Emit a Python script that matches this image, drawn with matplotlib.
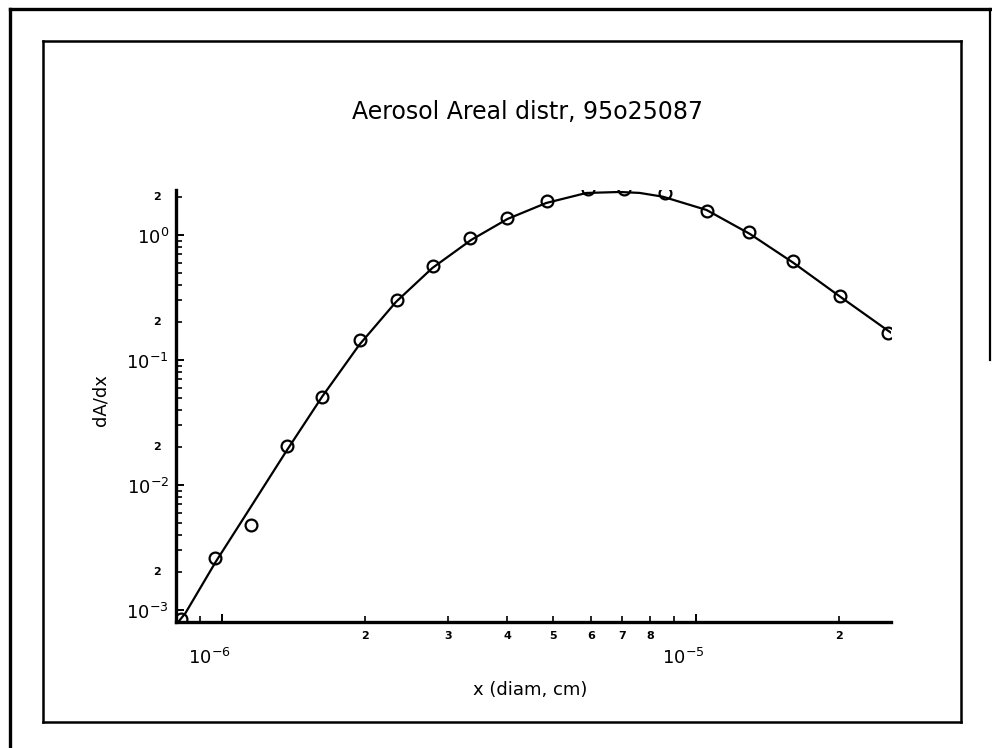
import matplotlib
matplotlib.use("Agg")
import matplotlib.pyplot as plt
import matplotlib.transforms as mtransforms
from matplotlib.lines import Line2D
from matplotlib.ticker import FixedLocator, NullFormatter

# ---- data ----
point_x = [8.2e-7, 9.66e-7, 1.15e-6, 1.372e-6, 1.627e-6, 1.96e-6, 2.344e-6, 2.79e-6,
           3.34e-6, 4.0e-6, 4.84e-6, 5.91e-6, 7.05e-6, 8.6e-6, 1.054e-5, 1.294e-5,
           1.603e-5, 2.015e-5, 2.54e-5]
point_y = [8.4e-4, 2.61e-3, 4.79e-3, 2.05e-2, 5.06e-2, 0.1445, 0.302, 0.565,
           0.946, 1.368, 1.87, 2.32, 2.32, 2.15, 1.556, 1.057,
           0.619, 0.325, 0.164]

curve_x = [8.0e-7, 8.38e-7, 9.70e-7, 1.140e-6, 1.364e-6, 1.627e-6, 1.948e-6, 2.329e-6,
           2.78e-6, 3.355e-6, 4.004e-6, 4.834e-6, 5.873e-6, 6.907e-6, 7.61e-6, 8.515e-6,
           1.053e-5, 1.30e-5, 1.604e-5, 2.015e-5, 2.53e-5, 2.6e-5]
curve_y = [7.6e-4, 9.46e-4, 2.42e-3, 6.31e-3, 1.837e-2, 5.08e-2, 0.1318, 0.2911,
           0.5445, 0.912, 1.343, 1.803, 2.168, 2.208, 2.17, 2.025,
           1.585, 1.019, 0.6003, 0.321, 0.1738, 0.162]

x_major_ticks = [1e-6, 1e-5]
x_major_labels = [r"10$^{-6}$", r"10$^{-5}$"]
x_minor_ticks = [8e-7, 9e-7, 2e-6, 3e-6, 4e-6, 5e-6, 6e-6, 7e-6, 8e-6, 9e-6, 2e-5]
x_minor_label_pos = [2e-6, 3e-6, 4e-6, 5e-6, 6e-6, 7e-6, 8e-6, 2e-5]
x_minor_labels = ["2", "3", "4", "5", "6", "7", "8", "2"]

y_major_ticks = [1e-3, 1e-2, 1e-1, 1e0]
y_major_labels = [r"10$^{-3}$", r"10$^{-2}$", r"10$^{-1}$", r"10$^{0}$"]
y_minor_ticks = [m * 10.0 ** e for e in (-3, -2, -1, 0) for m in range(2, 10)]
y_minor_label_pos = [2e-3, 2e-2, 2e-1, 2e0]
y_minor_labels = ["2", "2", "2", "2"]

title = "Aerosol Areal distr, 95o25087"
xlabel = "x (diam, cm)"
ylabel = "dA/dx"

# ---- figure ----
W, H = 992, 748
fig = plt.figure(figsize=(W / 100, H / 100), dpi=100)
fig.patch.set_facecolor("white")

def fx(px):
    return px / W

def fy(py):
    return 1 - py / H

ax_l, ax_r, ax_t, ax_b = 176, 891, 190, 622
ax = fig.add_axes([fx(ax_l), fy(ax_b), fx(ax_r - ax_l), (ax_b - ax_t) / H])
ax.set_xscale("log")
ax.set_yscale("log")
ax.set_xlim(8.0e-7, 2.58e-5)
ax.set_ylim(8.0e-4, 2.29)

ax.plot(curve_x, curve_y, color="black", lw=1.6, solid_joinstyle="round")
ax.plot(point_x, point_y, linestyle="none", marker="o", markersize=8.5,
        markerfacecolor="none", markeredgecolor="black", markeredgewidth=1.6)

for s in ("top", "right"):
    ax.spines[s].set_visible(False)
for s in ("left", "bottom"):
    ax.spines[s].set_linewidth(2.4)
    ax.spines[s].set_color("black")

ax.xaxis.set_major_locator(FixedLocator(x_major_ticks))
ax.xaxis.set_minor_locator(FixedLocator(x_minor_ticks))
ax.yaxis.set_major_locator(FixedLocator(y_major_ticks))
ax.yaxis.set_minor_locator(FixedLocator(y_minor_ticks))
for a in (ax.xaxis, ax.yaxis):
    a.set_major_formatter(NullFormatter())
    a.set_minor_formatter(NullFormatter())
ax.tick_params(which="major", direction="in", length=6, width=1.4, color="black")
ax.tick_params(which="minor", direction="in", length=4, width=1.2, color="black")

# x tick labels
tx = mtransforms.blended_transform_factory(ax.transData, ax.transAxes)
tx_major = mtransforms.offset_copy(tx, fig=fig, x=-13, y=0, units="dots")
for v, lab in zip(x_minor_label_pos, x_minor_labels):
    ax.text(v, (ax_b - 636) / (ax_b - ax_t), lab, transform=tx, ha="center", va="center",
            fontsize=8, fontweight="bold", clip_on=False)
for v, lab in zip(x_major_ticks, x_major_labels):
    ax.text(v, (ax_b - 658) / (ax_b - ax_t), lab, transform=tx_major, ha="center", va="center",
            fontsize=13, clip_on=False)

# y tick labels
ty = mtransforms.blended_transform_factory(ax.transAxes, ax.transData)
ty_major = mtransforms.offset_copy(ty, fig=fig, x=-7, y=-3, units="dots")
ty_minor = mtransforms.offset_copy(ty, fig=fig, x=-15, y=0, units="dots")
for v, lab in zip(y_major_ticks, y_major_labels):
    ax.text(0, v, lab, transform=ty_major, ha="right", va="center", fontsize=13, clip_on=False)
for v, lab in zip(y_minor_label_pos, y_minor_labels):
    ax.text(0, v, lab, transform=ty_minor, ha="right", va="center", fontsize=8,
            fontweight="bold", clip_on=False)

fig.text(fx(530), fy(690), xlabel, ha="center", va="center", fontsize=13)
fig.text(fx(100), fy(400), ylabel, ha="center", va="center", fontsize=13, rotation=90)
fig.text(fx(528), fy(112), title, ha="center", va="center", fontsize=17)

# page frames
def seg(x0, y0, x1, y1, lw):
    fig.add_artist(Line2D([fx(x0), fx(x1)], [fy(y0), fy(y1)], color="black", lw=lw,
                          solid_capstyle="projecting"))

seg(10, 9, 990, 9, 2.4)
seg(10, 9, 10, 748, 2.4)
seg(990, 9, 990, 360, 1.6)
seg(43, 41, 961, 41, 1.8)
seg(43, 41, 43, 722, 1.8)
seg(43, 722, 961, 722, 1.8)
seg(961, 41, 961, 722, 1.8)

fig.savefig("out.png", dpi=100, facecolor="white")
